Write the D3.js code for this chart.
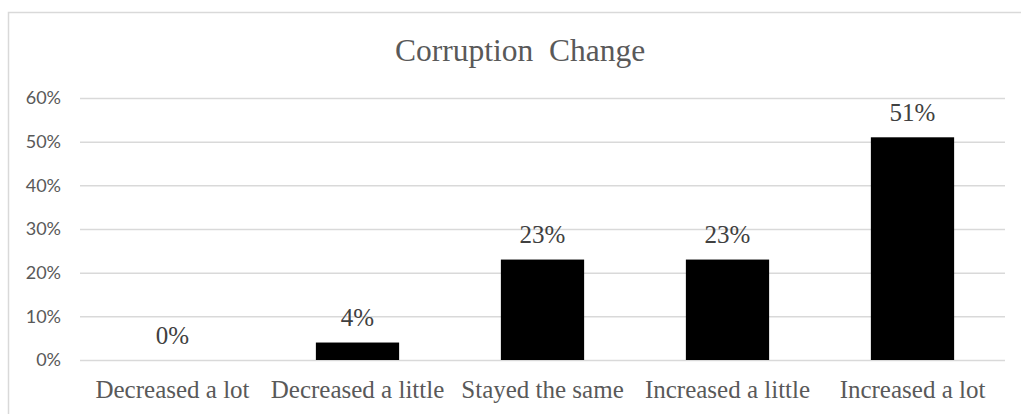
<!DOCTYPE html>
<html>
<head>
<meta charset="utf-8">
<script src="https://cdn.jsdelivr.net/npm/d3@7"></script>
<style>
  html, body { margin: 0; padding: 0; background: #fff; }
  svg { display: block; }
</style>
</head>
<body>
<svg id="chart" width="1021" height="414"></svg>
<script>
// Survey answers: how corruption has changed
const categories = ["Decreased a lot", "Decreased a little", "Stayed the same", "Increased a little", "Increased a lot"];
const shares = [0.00, 0.04, 0.23, 0.23, 0.51];
const yTicks = [0, 0.1, 0.2, 0.3, 0.4, 0.5, 0.6];
const chartTitle = "Corruption  Change";

const svg = d3.select("#chart");
const plot = { left: 80, right: 1005, top: 98, bottom: 360 };

// outer chart frame (extends past the right and bottom edges)
svg.append("rect")
  .attr("x", 8.5).attr("y", 12.5)
  .attr("width", 1040).attr("height", 420)
  .attr("fill", "#fff")
  .attr("stroke", "#d9d9d9")
  .attr("stroke-width", 1.5);

const x = d3.scaleBand()
  .domain(categories)
  .range([plot.left, plot.right])
  .paddingInner(0.55)
  .paddingOuter(0.275);

const y = d3.scaleLinear()
  .domain([0, 0.6])
  .range([plot.bottom, plot.top]);

// horizontal gridlines
const grid = svg.append("g")
  .attr("transform", `translate(${plot.left},0)`)
  .call(d3.axisLeft(y).tickValues(yTicks).tickSize(-(plot.right - plot.left)).tickFormat(""));
grid.select(".domain").remove();
grid.selectAll(".tick line").attr("stroke", "#d9d9d9").attr("stroke-width", 1.5);

// y axis labels
const yAxis = svg.append("g")
  .attr("transform", `translate(${plot.left},0)`)
  .call(d3.axisLeft(y).tickValues(yTicks).tickSize(0).tickPadding(19).tickFormat(d3.format(".0%")));
yAxis.select(".domain").remove();
yAxis.selectAll(".tick text")
  .attr("font-family", "Lato, 'Open Sans', sans-serif")
  .attr("font-size", 18)
  .attr("fill", "#595959");

// bars
svg.append("g").selectAll("rect")
  .data(categories)
  .join("rect")
  .attr("x", d => x(d))
  .attr("width", x.bandwidth())
  .attr("y", (d, i) => y(shares[i]))
  .attr("height", (d, i) => y(0) - y(shares[i]))
  .attr("fill", "#000");

// value labels
svg.append("g").selectAll("text")
  .data(categories)
  .join("text")
  .attr("x", d => x(d) + x.bandwidth() / 2)
  .attr("y", (d, i) => y(shares[i]) - 16.5)
  .attr("text-anchor", "middle")
  .attr("font-family", "'Liberation Serif', 'Times New Roman', serif")
  .attr("font-size", 25)
  .attr("fill", "#404040")
  .text((d, i) => d3.format(".0%")(shares[i]));

// category axis
const xAxis = svg.append("g")
  .attr("transform", `translate(0,${plot.bottom})`)
  .call(d3.axisBottom(x).tickSize(0).tickPadding(0));
xAxis.select(".domain").remove();
xAxis.selectAll(".tick text")
  .attr("dy", null)
  .attr("y", 38)
  .attr("font-family", "'Liberation Serif', 'Times New Roman', serif")
  .attr("font-size", 25)
  .attr("fill", "#595959");

// title
svg.append("text")
  .attr("x", 520)
  .attr("y", 61)
  .attr("text-anchor", "middle")
  .style("white-space", "pre")
  .attr("font-family", "'Liberation Serif', 'Times New Roman', serif")
  .attr("font-size", 31.5)
  .attr("fill", "#595959")
  .text(chartTitle);
</script>
</body>
</html>
